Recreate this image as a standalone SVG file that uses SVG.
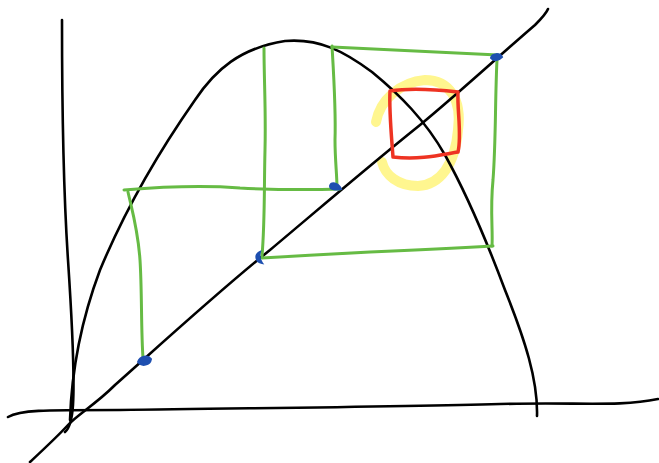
<svg xmlns="http://www.w3.org/2000/svg" width="659" height="463" viewBox="0 0 659 463">
<style>
.k{fill:none;stroke:#000;stroke-width:2.6;stroke-linecap:round;stroke-linejoin:round}
.g{fill:none;stroke:#66bb44;stroke-width:3;stroke-linecap:round;stroke-linejoin:round}
.b{fill:#1e4fb0;stroke:#1e4fb0;stroke-width:2}
</style>
<rect width="659" height="463" fill="#fff"/>
<path d="M376,122 C380,100 400,82 425,80 C450,80 462,100 458,130 C455,165 440,185 418,186 C398,186 385,175 382,162" fill="none" stroke="#fff68f" stroke-width="10" stroke-linecap="round"/>
<g id="axes">
<path class="k" stroke-width="3" d="M62,20 C62,100 64,200 68,260 C72,320 75,370 73,405 C72,420 70,428 65,432"/>
<path class="k" stroke-width="3" d="M8,417 C20,410 40,410 120,410 C250,408 400,407 500,404 C580,402 620,407 658,399"/>
</g>
<g id="curve">
<path class="k" d="M70,420 C72,360 85,310 100,270 C125,210 160,150 195,100 C215,70 240,48 285,41 C320,38 345,52 372,72 C400,95 425,120 445,155 C470,200 490,250 505,290 C525,340 538,380 537,416"/>
</g>
<g id="diagonal">
<path class="k" stroke-width="3" d="M30,462 C45,448 58,436 68,425 C78,414 95,405 115,385 C160,345 220,290 270,250 C320,208 370,165 420,125 C460,92 500,55 535,25 C542,18 546,14 548,9"/>
</g>
<g id="connectors">
<path class="g" d="M143,358 C141,330 142,290 140,260 C138,230 132,210 128,192"/>
<path class="g" d="M124,190 C160,187 200,185 240,188 C280,190 310,190 340,189"/>
<path class="g" d="M264,48 C264,80 266,110 265,150 C264,190 265,220 262,256"/>
<path class="g" d="M262,258 C300,256 330,254 370,252 C420,250 460,248 493,246"/>
<path class="g" d="M332,46 C334,80 336,110 335,140 C335,160 337,175 337,188"/>
<path class="g" d="M332,47 C380,49 430,52 498,55"/>
<path class="g" d="M497,60 C495,100 496,140 493,180 C490,210 493,230 492,246"/>
</g>
<g id="points">
<path class="b" d="M138,362 C140,356 148,355 151,359 C150,365 142,367 138,362 Z"/>
<path class="b" d="M260,252 C254,255 256,262 262,263 C259,259 259,256 260,252 Z"/>
<path class="b" d="M330,186 C331,182 338,182 341,189 C336,190 330,190 330,186 Z"/>
<path class="b" d="M491,58 C492,53 500,53 502,57 C499,60 494,62 491,58 Z"/>
</g>
<g id="highlight">
<path d="M390,91 C410,88 440,90 458,92 C457,110 462,135 458,152 C440,155 420,160 393,157 C391,130 389,110 390,91 Z" fill="none" stroke="#ee3322" stroke-width="3.5" stroke-linejoin="round"/>
</g>
</svg>
